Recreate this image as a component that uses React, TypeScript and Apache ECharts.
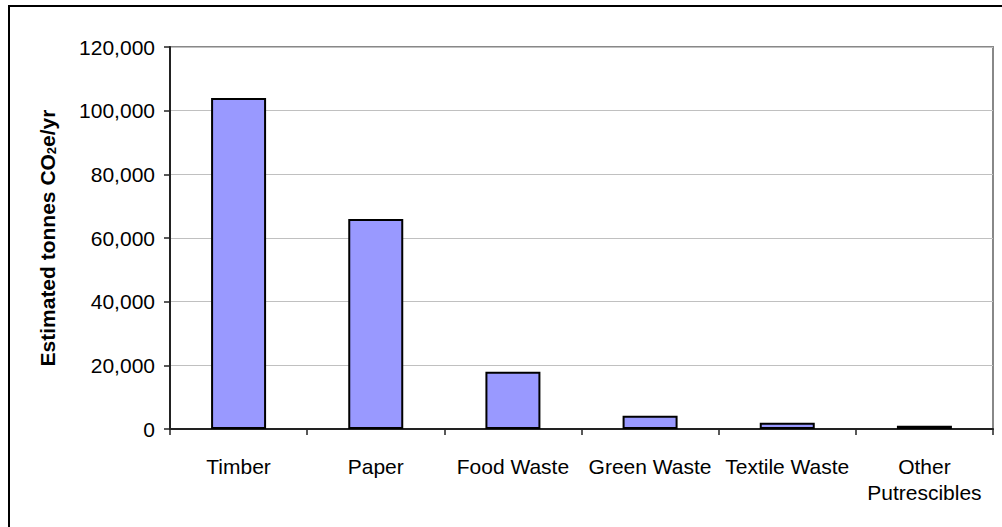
import React, { useEffect, useRef } from "react";
import * as echarts from "echarts";

const categories = ["Timber", "Paper", "Food Waste", "Green Waste", "Textile Waste", "Other\nPutrescibles"];
const values = [104000, 66000, 18000, 4200, 2000, 1000];
const yMin = 0;
const yMax = 120000;
const yInterval = 20000;
const yTitle = "Estimated tonnes CO{sub|2}e/yr";

const FONT = "'Liberation Sans', Arial, sans-serif";

export default function App() {
  const ref = useRef<HTMLDivElement>(null);
  useEffect(() => {
    if (!ref.current) return;
    const chart = echarts.init(ref.current, undefined, { renderer: "svg" });
    chart.setOption({
      animation: false,
      backgroundColor: "#ffffff",
      textStyle: { fontFamily: FONT },
      graphic: [
        {
          type: "rect",
          shape: { x: 9, y: 6, width: 1100, height: 600 },
          style: { fill: "none", stroke: "#000", lineWidth: 2 },
          silent: true,
          z: 100,
        },
      ],
      grid: {
        left: 170,
        right: 9,
        top: 47,
        bottom: 98,
        show: true,
        borderColor: "#888",
        borderWidth: 2,
        backgroundColor: "transparent",
      },
      xAxis: {
        type: "category",
        data: categories,
        boundaryGap: true,
        axisLine: { show: true, lineStyle: { color: "#222", width: 2 } },
        axisTick: { show: true, alignWithLabel: false, length: 6, lineStyle: { color: "#222", width: 1.5 } },
        axisLabel: {
          interval: 0,
          margin: 24,
          color: "#000",
          fontSize: 21,
          fontFamily: FONT,
          lineHeight: 26,
        },
        splitLine: { show: false },
      },
      yAxis: {
        type: "value",
        min: yMin,
        max: yMax,
        interval: yInterval,
        name: yTitle,
        nameLocation: "middle",
        nameGap: 112,
        nameRotate: 90,
        nameTextStyle: {
          color: "#000",
          fontSize: 21,
          fontWeight: "bold",
          fontFamily: FONT,
          rich: {
            sub: {
              fontSize: 13,
              fontWeight: "bold",
              fontFamily: FONT,
              color: "#000",
              verticalAlign: "bottom",
              padding: [6, 0, 0, 0],
            },
          },
        },
        axisLine: { show: true, lineStyle: { color: "#222", width: 2 } },
        axisTick: { show: true, length: 6, lineStyle: { color: "#222", width: 1.5 } },
        axisLabel: {
          margin: 15,
          color: "#000",
          fontSize: 21,
          fontFamily: FONT,
          formatter: (v: number) => v.toLocaleString("en-US"),
        },
        splitLine: { show: true, lineStyle: { color: "#c0c0c0", width: 1 } },
      },
      series: [
        {
          type: "bar",
          data: values,
          barWidth: 55,
          itemStyle: { color: "#9999ff", borderColor: "#000", borderWidth: 2 },
        },
      ],
    });
    return () => chart.dispose();
  }, []);
  return (
    <div
      ref={ref}
      style={{ position: "absolute", left: 0, top: 0, width: 1002, height: 527 }}
    />
  );
}
